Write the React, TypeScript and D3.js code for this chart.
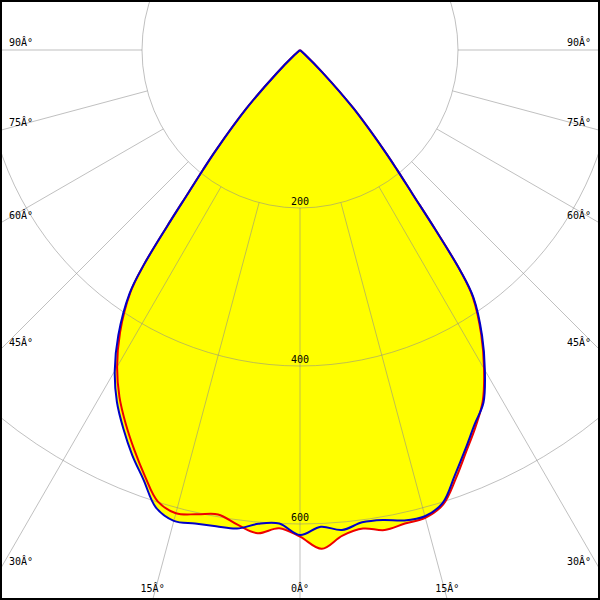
import React from 'react';
import * as d3 from 'd3';

// Photometric polar diagram data (cd/klm), gamma angle in degrees
const gammaAngles = [0, 2.5, 5, 7.5, 10, 12.5, 15, 17.5, 20, 22.5, 25, 27.5, 30, 32.5, 35, 36, 37, 38, 39, 40, 42.5, 45, 47.5, 50, 60, 70, 80, 90];
// C0 (right, red) and C180 (left, red)
const c0Values = [616, 632, 617, 611, 617, 614, 613, 603, 577, 550, 526, 501, 466, 427, 381, 345, 285, 232, 196, 165, 100, 40, 8, 0, 0, 0, 0, 0];
const c180Values = [616, 606, 614, 606, 597, 602, 607, 599, 574, 548, 522, 495, 463, 424, 374, 337, 280, 230, 195, 165, 100, 42, 10, 0, 0, 0, 0, 0];
// C90 (right, blue) and C270 (left, blue)
const c90Values = [614, 604, 610, 603, 604, 610, 611, 601, 573, 547, 523, 503, 468, 429, 383, 345, 285, 232, 196, 165, 100, 40, 8, 0, 0, 0, 0, 0];
const c270Values = [614, 600, 602, 611, 612, 614, 617, 607, 579, 555, 529, 502, 469, 428, 376, 337, 280, 230, 195, 165, 100, 42, 10, 0, 0, 0, 0, 0];

const ringValues = [200, 400, 600, 800];
const ringLabels = ['200', '400', '600'];
const spokeAngles = [0, 15, 30, 45, 60, 75, 90];
const spokeLabels = ['0Â°', '15Â°', '30Â°', '45Â°', '60Â°', '75Â°', '90Â°'];

const W = 600;
const H = 600;
const CX = 300;
const CY = 50;
const FONT = '"DejaVu Sans Mono", monospace';

const rScale = d3.scaleLinear().domain([0, 200]).range([0, 158]);
const toRad = (g: number) => (g * Math.PI) / 180;

type P = [number, number];

function planePoints(left: number[], right: number[]): P[] {
  const pts: P[] = [[0, 0]];
  for (let i = gammaAngles.length - 1; i >= 0; i--) {
    if (left[i] > 0) pts.push([Math.PI + toRad(gammaAngles[i]), rScale(left[i])]);
  }
  for (let i = 1; i < gammaAngles.length; i++) {
    if (right[i] > 0) pts.push([Math.PI - toRad(gammaAngles[i]), rScale(right[i])]);
  }
  pts.push([0, 0]);
  return pts;
}

const radial = d3
  .lineRadial<P>()
  .angle((d) => d[0])
  .radius((d) => d[1])
  .curve(d3.curveCatmullRom.alpha(0.5));

export default function App() {
  const redPts = planePoints(c180Values, c0Values);
  const bluePts = planePoints(c270Values, c90Values);
  const redPath = radial(redPts) || '';
  const bluePath = radial(bluePts) || '';

  const rInner = rScale(ringValues[0]);
  const rOuter = 1200;

  // label positions where the spokes leave the frame
  const labels: { x: number; y: number; anchor: string; text: string }[] = [];
  spokeAngles.forEach((g, i) => {
    const s = Math.sin(toRad(g));
    const c = Math.cos(toRad(g));
    const tBottom = c > 1e-9 ? (H - CY) / c : Infinity;
    const tSide = s > 1e-9 ? (W - CX) / s : Infinity;
    if (tBottom <= tSide) {
      const dx = s * tBottom;
      if (g === 0) {
        labels.push({ x: CX, y: 592, anchor: 'middle', text: spokeLabels[i] });
      } else {
        labels.push({ x: CX - dx, y: 592, anchor: 'middle', text: spokeLabels[i] });
        labels.push({ x: CX + dx, y: 592, anchor: 'middle', text: spokeLabels[i] });
      }
    } else {
      const y = CY + c * tSide - 4.5;
      labels.push({ x: 9, y, anchor: 'start', text: spokeLabels[i] });
      labels.push({ x: W - 9, y, anchor: 'end', text: spokeLabels[i] });
    }
  });

  return (
    <div style={{ position: 'absolute', left: 0, top: 0, width: W, height: H }}>
      <svg width={W} height={H} viewBox={`0 0 ${W} ${H}`} style={{ display: 'block', background: '#fff' }}>
        <rect x={0} y={0} width={W} height={H} fill="#ffffff" />
        <g transform={`translate(${CX},${CY})`}>
          {/* fills */}
          <path d={redPath + 'Z'} fill="#ffff00" stroke="none" />
          <path d={bluePath + 'Z'} fill="#ffff00" stroke="none" />
          {/* grid */}
          <g stroke="#8c8c8c" strokeOpacity={0.55} strokeWidth={1} fill="none">
            {ringValues.map((v) => (
              <circle key={v} cx={0} cy={0} r={rScale(v)} />
            ))}
            {spokeAngles.map((g) => {
              const s = Math.sin(toRad(g));
              const c = Math.cos(toRad(g));
              return (
                <g key={g}>
                  <line x1={s * rInner} y1={c * rInner} x2={s * rOuter} y2={c * rOuter} />
                  {g !== 0 && <line x1={-s * rInner} y1={c * rInner} x2={-s * rOuter} y2={c * rOuter} />}
                </g>
              );
            })}
          </g>
          {/* curves */}
          <path d={redPath} fill="none" stroke="#ee0000" strokeWidth={2} strokeLinejoin="round" />
          <path d={bluePath} fill="none" stroke="#0000c8" strokeWidth={2} strokeLinejoin="round" />
          {/* ring labels */}
          {ringLabels.map((t, i) => (
            <text
              key={t}
              x={0}
              y={rScale(ringValues[i]) - 3}
              textAnchor="middle"
              fontFamily={FONT}
              fontSize={10}
              fill="#000"
            >
              {t}
            </text>
          ))}
        </g>
        {labels.map((l, i) => (
          <text key={i} x={l.x} y={l.y} textAnchor={l.anchor} fontFamily={FONT} fontSize={10} fill="#000">
            {l.text}
          </text>
        ))}
        <rect x={1} y={1} width={W - 2} height={H - 2} fill="none" stroke="#000" strokeWidth={2} />
      </svg>
    </div>
  );
}
